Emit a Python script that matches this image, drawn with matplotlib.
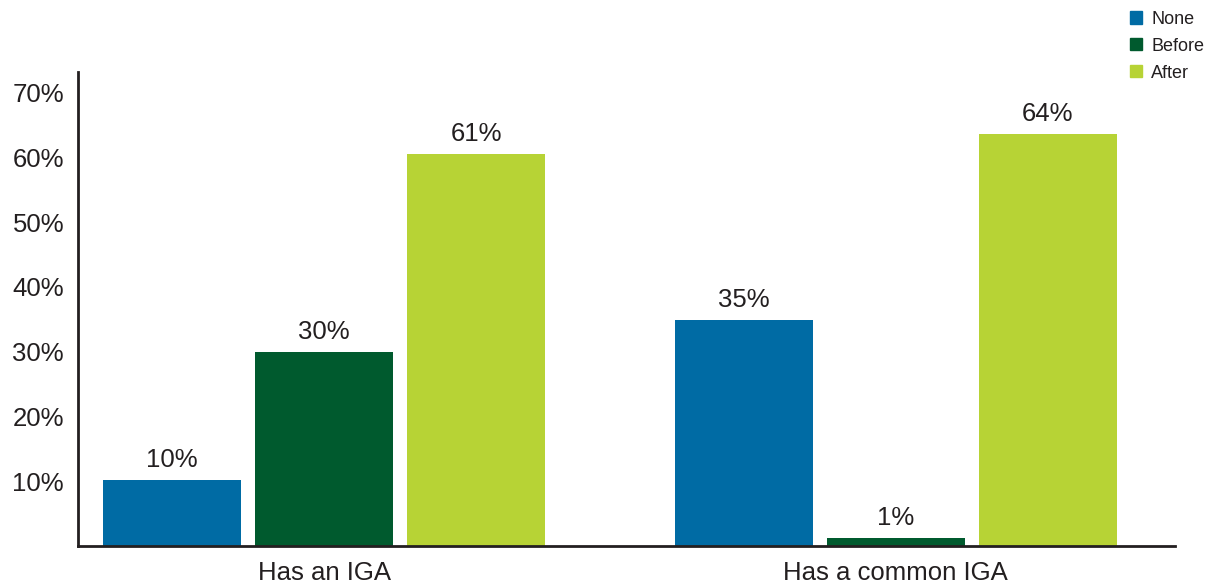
import matplotlib.pyplot as plt
import numpy as np
from matplotlib.patches import Patch

plt.rcParams['font.family'] = ['Liberation Sans', 'DejaVu Sans']

# Data
categories = ['Has an IGA', 'Has a common IGA']
series = ['None', 'Before', 'After']
none_vals = [10.2, 34.9]
before_vals = [30.0, 1.2]
after_vals = [60.6, 63.7]
yticks = [10, 20, 30, 40, 50, 60, 70]

colors = ['#006BA4', '#005A2E', '#B7D335']
text_color = '#231F20'

fig = plt.figure(figsize=(12.15, 5.84), dpi=100)
ax = fig.add_axes([78 / 1215, 38 / 584, 1097 / 1215, 474 / 584])

x = np.arange(len(categories))
width = 0.2417
step = 0.266

for i, vals in enumerate([none_vals, before_vals, after_vals]):
    pos = x + (i - 1) * step
    bars = ax.bar(pos, vals, width, color=colors[i], label=series[i])
    for b, v in zip(bars, vals):
        ax.text(b.get_x() + b.get_width() / 2, v + 1.2, f'{v:.0f}%',
                ha='center', va='bottom', fontsize=18.5, color=text_color)

ax.set_xlim(-0.431, 1.489)
ax.set_ylim(0, 73.2)
ax.set_yticks(yticks)
ax.set_yticklabels([f'{t}%' for t in yticks], fontsize=18.5, color=text_color)
ax.set_xticks(x)
ax.set_xticklabels(categories, fontsize=18.5, color=text_color)
ax.tick_params(axis='x', length=0, pad=11)
ax.tick_params(axis='y', length=0, pad=10)

for s in ['top', 'right']:
    ax.spines[s].set_visible(False)
for s in ['left', 'bottom']:
    ax.spines[s].set_color(text_color)
    ax.spines[s].set_linewidth(2)

handles = [Patch(color=c) for c in colors]
fig.legend(handles, series, loc='upper right', bbox_to_anchor=(1.0, 1.0),
           frameon=False, fontsize=13, handlelength=0.65, handleheight=0.65,
           handletextpad=0.5, labelspacing=0.55, labelcolor=text_color,
           borderaxespad=0.2)

plt.savefig('out.png', dpi=100)
